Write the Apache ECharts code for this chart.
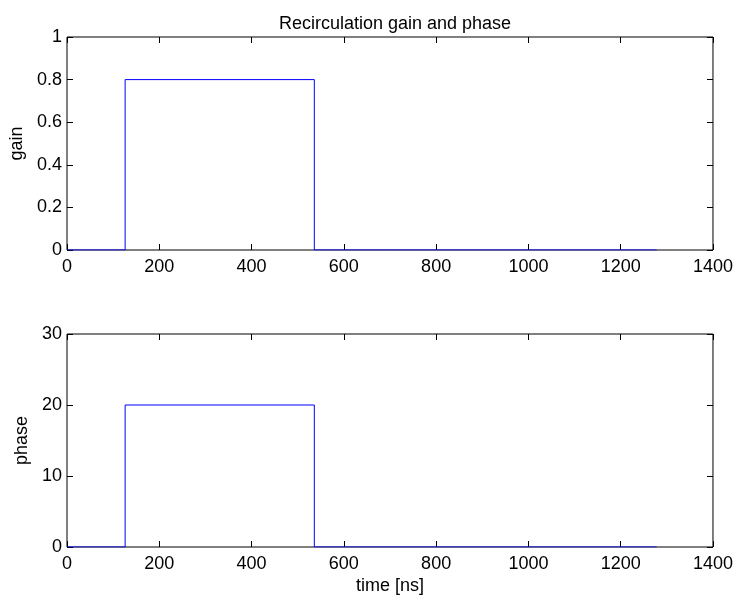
<!DOCTYPE html>
<html>
<head>
<meta charset="utf-8">
<script src="https://cdn.jsdelivr.net/npm/echarts@6/dist/echarts.min.js"></script>
<style>
  html, body { margin: 0; padding: 0; background: #fff; }
  #chart { width: 736px; height: 601px; }
</style>
</head>
<body>
<div id="chart"></div>
<script>
// Step breakpoints of the recirculation settings over time
const timeNs = [0, 126, 126, 536, 536, 1278];
const gain = [0, 0, 0.8, 0.8, 0, 0];
const phase = [0, 0, 20, 20, 0, 0];

const xTicks = { min: 0, max: 1400, interval: 200 };
const gainTicks = { min: 0, max: 1, interval: 0.2 };
const phaseTicks = { min: 0, max: 30, interval: 10 };

const FONT = 'Liberation Sans, Arial, Helvetica, sans-serif';
const textBase = { fontFamily: FONT, fontSize: 18, color: '#000' };
const plain = v => String(v);

function pairs(xs, ys) {
  return xs.map((x, i) => [x, ys[i]]);
}

const tickStyle = { show: true, inside: true, length: 6, lineStyle: { color: '#000', width: 1 } };
const hiddenLine = { show: false, onZero: false };

// primary axis (labels + ticks) and a mirrored one (ticks only) for a boxed look
function xAxes(gridIndex, name) {
  return [
    {
      type: 'value', gridIndex, position: 'bottom',
      min: xTicks.min, max: xTicks.max, interval: xTicks.interval,
      axisLine: hiddenLine,
      axisTick: tickStyle,
      axisLabel: Object.assign({ margin: 8, formatter: plain }, textBase),
      splitLine: { show: false },
      name: name || '', nameLocation: 'middle', nameGap: 30,
      nameTextStyle: textBase
    },
    {
      type: 'value', gridIndex, position: 'top',
      min: xTicks.min, max: xTicks.max, interval: xTicks.interval,
      axisLine: hiddenLine,
      axisTick: tickStyle,
      axisLabel: { show: false },
      splitLine: { show: false }
    }
  ];
}

function yAxes(gridIndex, ticks, name, gap) {
  return [
    {
      type: 'value', gridIndex, position: 'left',
      min: ticks.min, max: ticks.max, interval: ticks.interval,
      axisLine: hiddenLine,
      axisTick: tickStyle,
      axisLabel: Object.assign({ margin: 5, formatter: plain }, textBase),
      splitLine: { show: false },
      name, nameLocation: 'middle', nameGap: gap,
      nameTextStyle: textBase
    },
    {
      type: 'value', gridIndex, position: 'right',
      min: ticks.min, max: ticks.max, interval: ticks.interval,
      axisLine: hiddenLine,
      axisTick: tickStyle,
      axisLabel: { show: false },
      splitLine: { show: false }
    }
  ];
}

const chart = echarts.init(document.getElementById('chart'), null, { renderer: 'canvas' });

chart.setOption({
  animation: false,
  backgroundColor: '#fff',
  title: {
    text: 'Recirculation gain and phase',
    left: 390, top: 10, textAlign: 'center',
    textStyle: Object.assign({}, textBase, { fontWeight: 'normal' })
  },
  grid: [
    { left: 67, top: 37, width: 646, height: 213, show: true, borderColor: '#000', borderWidth: 1, backgroundColor: 'transparent' },
    { left: 67, top: 334, width: 646, height: 213, show: true, borderColor: '#000', borderWidth: 1, backgroundColor: 'transparent' }
  ],
  xAxis: [].concat(xAxes(0), xAxes(1, 'time [ns]')),
  yAxis: [].concat(yAxes(0, gainTicks, 'gain', 38), yAxes(1, phaseTicks, 'phase', 32)),
  series: [
    {
      type: 'line', xAxisIndex: 0, yAxisIndex: 0,
      data: pairs(timeNs, gain),
      symbol: 'none', lineStyle: { color: '#0000ff', width: 1 }
    },
    {
      type: 'line', xAxisIndex: 2, yAxisIndex: 2,
      data: pairs(timeNs, phase),
      symbol: 'none', lineStyle: { color: '#0000ff', width: 1 }
    }
  ]
});
</script>
</body>
</html>
